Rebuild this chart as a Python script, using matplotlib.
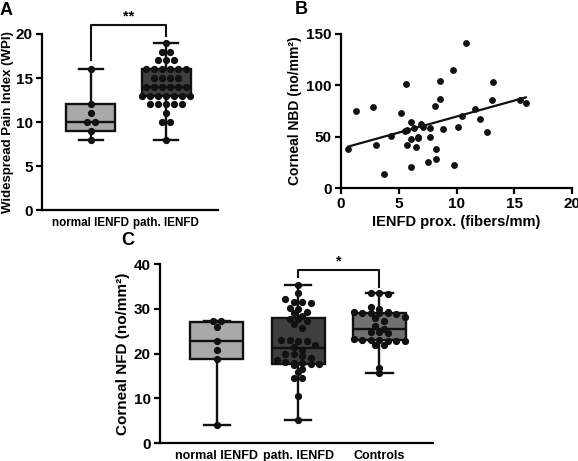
import numpy as np
import matplotlib.pyplot as plt

plt.rcParams['font.family'] = ['Liberation Sans', 'DejaVu Sans']
plt.rcParams['font.weight'] = 'bold'
plt.rcParams['axes.labelweight'] = 'bold'

W, H = 578, 461

# panel A: widespread pain index
wpi_groups = ['normal IENFD', 'path. IENFD']
wpi_normal = [16, 12, 11, 10, 10, 9, 8]
wpi_path = [19, 18, 18, 17, 17, 17, 16, 16, 16, 16, 16, 16, 15, 15, 15, 15,
            14, 14, 14, 14, 14, 14, 13, 13, 13, 13, 13, 13, 13,
            12, 12, 12, 12, 12, 11, 10, 10, 8]
wpi_q1 = [9, 13]
wpi_med = [10, 14]
wpi_q3 = [12, 16]
wpi_lo = [8, 8]
wpi_hi = [16, 19]

# panel B: corneal NBD vs IENFD prox.
ienfd_x = [0.64, 1.3, 2.8, 3.0, 3.7, 4.3, 5.2, 5.6, 5.5, 5.75, 5.7, 6.1, 6.1, 6.1,
           6.3, 6.5, 6.7, 6.7, 6.9, 7.1, 7.5, 7.7, 7.7, 8.1, 8.2, 8.2, 8.6, 8.6,
           8.8, 9.7, 9.8, 10.1, 10.5, 10.8, 11.6, 12.0, 12.6, 13.1, 13.2, 15.5, 16.0]
nbd_y = [37.8, 75.3, 78.6, 42.0, 13.7, 50.5, 73.4, 101.7, 55.8, 56.4, 42.0, 63.9, 47.9, 20.5,
         58.4, 40.0, 49.9, 49.0, 62.3, 59.7, 25.4, 58.7, 49.2, 80.2, 38.3, 28.7, 104.6, 87.0,
         57.7, 115.0, 22.5, 59.7, 70.0, 141.0, 77.3, 66.8, 54.4, 85.7, 103.3, 85.7, 82.8]

# panel C: corneal NFD
nfd_groups = ['normal IENFD', 'path. IENFD', 'Controls']
nfd_normal = [27.2, 27.2, 26.0, 22.9, 20.7, 18.7, 4.1]
nfd_path = [35.4, 33.5, 32.2, 31.5, 31.5, 31.2, 30.2, 30.0, 29.3, 29.0, 28.3, 27.8,
            27.6, 27.2, 26.6, 25.8, 23.0, 23.0, 22.8, 22.8, 22.0, 21.4, 20.8, 20.0,
            19.8, 19.5, 19.0, 18.6, 18.0, 17.8, 17.8, 17.6, 17.6, 17.5, 16.5, 15.8,
            14.5, 14.5, 10.5, 5.2]
nfd_ctrl = [33.5, 33.5, 33.3, 30.3, 30.0, 29.3, 29.2, 29.0, 29.0, 29.0, 29.0, 28.8,
            28.2, 28.0, 27.2, 26.2, 25.5, 24.8, 24.8, 24.6, 23.2, 23.0, 23.0, 23.0,
            22.9, 22.8, 22.8, 22.0, 21.8, 16.8, 15.6]
nfd_q1 = [18.7, 17.6, 23.0]
nfd_med = [22.9, 21.3, 25.5]
nfd_q3 = [27.0, 28.0, 29.0]
nfd_lo = [4.1, 5.2, 15.6]
nfd_hi = [27.2, 35.4, 33.5]


def row_offsets(vals, row_gap, step):
    # group close values into rows and spread each row around the centre
    vals = np.asarray(vals, float)
    order = np.argsort(-vals)
    offs = np.zeros(len(vals))
    rows = []
    for i in order:
        if rows and abs(vals[rows[-1][0]] - vals[i]) < row_gap:
            rows[-1].append(i)
        else:
            rows.append([i])
    for r in rows:
        n = len(r)
        for k, i in enumerate(r):
            offs[i] = (k - (n - 1) / 2) * step
    return offs


def box_panel(ax, groups, data, q1, med, q3, lo, hi, colors, row_gap):
    stats = []
    for i in range(len(groups)):
        stats.append(dict(q1=q1[i], med=med[i], q3=q3[i], whislo=lo[i], whishi=hi[i]))
    bp = ax.bxp(stats, positions=range(len(groups)), widths=0.65, patch_artist=True,
                showfliers=False,
                boxprops=dict(edgecolor='#111111', linewidth=1.7),
                whiskerprops=dict(color='#111111', linewidth=1.7),
                capprops=dict(color='#111111', linewidth=1.7),
                medianprops=dict(color='#111111', linewidth=1.7))
    for patch, c in zip(bp['boxes'], colors):
        patch.set_facecolor(c)
    for i, vals in enumerate(data):
        offs = row_offsets(vals, row_gap, 0.105)
        ax.plot(i + offs, vals, 'o', color='#111111', ms=4.2, zorder=4, clip_on=False)
    ax.spines[['top', 'right']].set_visible(False)
    ax.spines[['left', 'bottom']].set_linewidth(1.6)
    ax.tick_params(axis='y', width=1.6, length=4, labelsize=11, pad=2.5)
    ax.tick_params(axis='x', length=0, pad=5)


fig = plt.figure(figsize=(W / 100, H / 100), dpi=100)

# A
axA = fig.add_axes([42 / W, 1 - 210 / H, 176 / W, 176 / H])
box_panel(axA, wpi_groups, [wpi_normal, wpi_path], wpi_q1, wpi_med, wpi_q3, wpi_lo, wpi_hi,
          ['#a9a9a9', '#3f3f3f'], 0.5)
axA.set_xlim(-0.65, 1.69)
axA.set_ylim(0, 20)
axA.set_yticks([0, 5, 10, 15, 20])
axA.set_xticks([0, 1])
axA.set_xticklabels(wpi_groups, fontsize=8.4)
axA.set_ylabel('Widespread Pain Index (WPI)', fontsize=9.5, labelpad=1.5)
axA.plot([0, 0, 1, 1], [17.0, 21.0, 21.0, 19.8], color='#111111', lw=1.5, clip_on=False)
axA.text(0.5, 21.2, '**', ha='center', va='bottom', fontsize=10.5)

# B
axB = fig.add_axes([341 / W, 1 - 188 / H, 231 / W, 154 / H])
axB.plot(ienfd_x, nbd_y, 'o', color='#111111', ms=3.9, clip_on=False)
slope, icpt = np.polyfit(ienfd_x, nbd_y, 1)
xl = np.array([min(ienfd_x), max(ienfd_x)])
axB.plot(xl, slope * xl + icpt, color='#111111', lw=1.6)
axB.set_xlim(0, 20)
axB.set_ylim(0, 150)
axB.set_xticks([0, 5, 10, 15, 20])
axB.set_yticks([0, 50, 100, 150])
axB.spines[['top', 'right']].set_visible(False)
axB.spines[['left', 'bottom']].set_linewidth(1.6)
axB.tick_params(width=1.6, length=4, labelsize=11, pad=2.5)
axB.set_xlabel('IENFD prox. (fibers/mm)', fontsize=10.5, labelpad=3)
axB.set_ylabel('Corneal NBD (no/mm²)', fontsize=10, labelpad=3)

# C
axC = fig.add_axes([160 / W, 1 - 443 / H, 273 / W, 179 / H])
box_panel(axC, nfd_groups, [nfd_normal, nfd_path, nfd_ctrl], nfd_q1, nfd_med, nfd_q3,
          nfd_lo, nfd_hi, ['#a9a9a9', '#3f3f3f', '#707070'], 1.1)
axC.set_xlim(-0.7, 2.66)
axC.set_ylim(0, 40)
axC.set_yticks([0, 10, 20, 30, 40])
axC.set_xticks([0, 1, 2])
axC.set_xticklabels(nfd_groups, fontsize=9)
axC.set_ylabel('Corneal NFD (no/mm²)', fontsize=11, labelpad=3)
axC.plot([1, 1, 2, 2], [37.2, 38.7, 38.7, 34.8], color='#111111', lw=1.5, clip_on=False)
axC.text(1.5, 38.9, '*', ha='center', va='bottom', fontsize=10.5)

fig.text(0 / W, 1 - 2 / H, 'A', fontsize=13, fontweight='bold', va='top', ha='left')
fig.text(295 / W, 1 - 1 / H, 'B', fontsize=13, fontweight='bold', va='top', ha='left')
fig.text(121 / W, 1 - 232 / H, 'C', fontsize=13, fontweight='bold', va='top', ha='left')

fig.savefig('out.png', dpi=100)
